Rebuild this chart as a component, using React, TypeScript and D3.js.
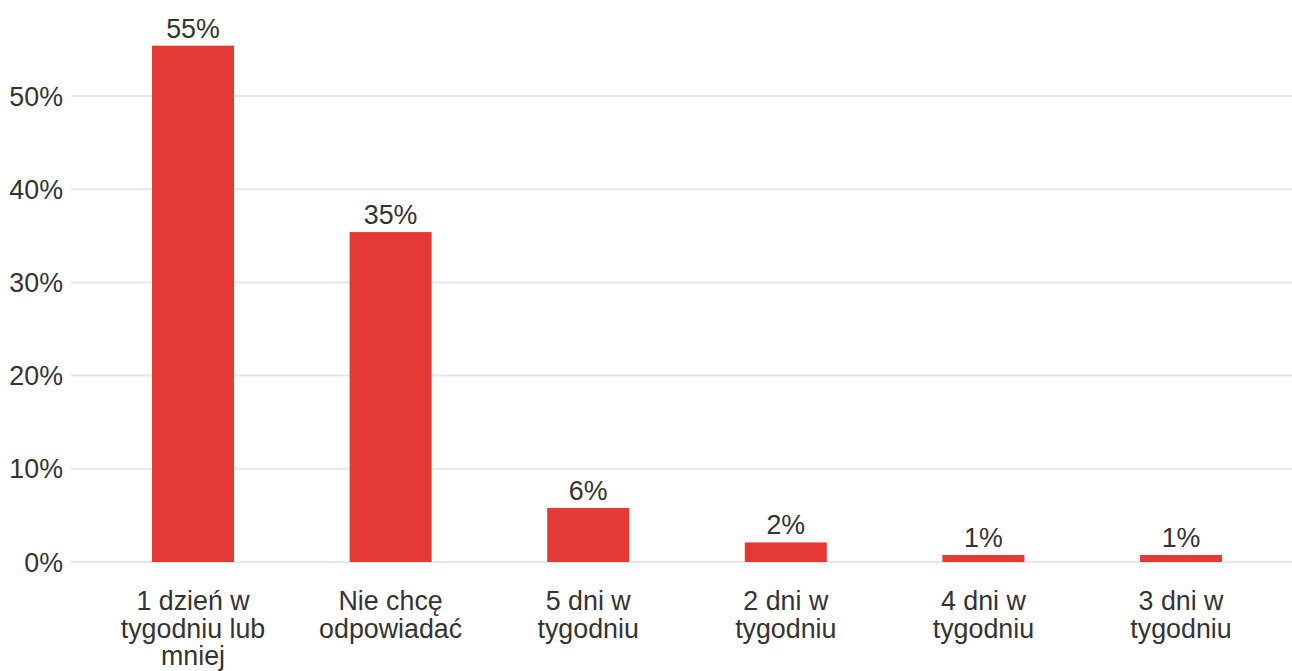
import React from "react";
import * as d3 from "d3";

const categories = ["1 dzień w tygodniu lub mniej", "Nie chcę odpowiadać", "5 dni w tygodniu", "2 dni w tygodniu", "4 dni w tygodniu", "3 dni w tygodniu"];
const values = [55.4, 35.4, 5.8, 2.1, 0.75, 0.75];
const valueLabels = ["55%", "35%", "6%", "2%", "1%", "1%"];
const yTicks = [0, 10, 20, 30, 40, 50];

const W = 1292, H = 671;
const FONT = "Liberation Sans, Arial, sans-serif";
const FS = 26.8;

function wrap(text: string, maxW: number): string[] {
  const canvas = document.createElement("canvas");
  const ctx = canvas.getContext("2d")!;
  ctx.font = `${FS}px ${FONT}`;
  const words = text.split(" ");
  const lines: string[] = [];
  let cur = "";
  for (const w of words) {
    const t = cur ? cur + " " + w : w;
    if (cur && ctx.measureText(t).width > maxW) {
      lines.push(cur);
      cur = w;
    } else cur = t;
  }
  if (cur) lines.push(cur);
  return lines;
}

export default function App() {
  const x = d3.scaleBand<string>().domain(categories).range([94.2, 1279.8]).paddingInner(0.585).paddingOuter(0.2925);
  const y = d3.scaleLinear().domain([0, 50]).range([562, 96]);
  const bw = x.bandwidth();
  return (
    <svg width={W} height={H} style={{ position: "absolute", left: 0, top: 0, background: "#fff" }} fontFamily={FONT}>
      {yTicks.map((t) => (
        <g key={t}>
          <line x1={71} x2={1292} y1={y(t)} y2={y(t)} stroke="#e6e6e6" strokeWidth={2} />
          <text x={63} y={y(t)} dy="0.36em" textAnchor="end" fontSize={FS} fill="#333">{t}%</text>
        </g>
      ))}
      {categories.map((c, i) => (
        <g key={c}>
          <rect x={x(c)} y={y(values[i])} width={bw} height={y(0) - y(values[i])} fill="#e53935" />
          <text x={x(c)! + bw / 2} y={y(values[i]) - 8} textAnchor="middle" fontSize={FS} fill="#333">{valueLabels[i]}</text>
          <text textAnchor="middle" fontSize={FS} fill="#333">
            {wrap(c, 170).map((l, j) => (
              <tspan key={j} x={x(c)! + bw / 2} y={610 + j * 27.5}>{l}</tspan>
            ))}
          </text>
        </g>
      ))}
    </svg>
  );
}
